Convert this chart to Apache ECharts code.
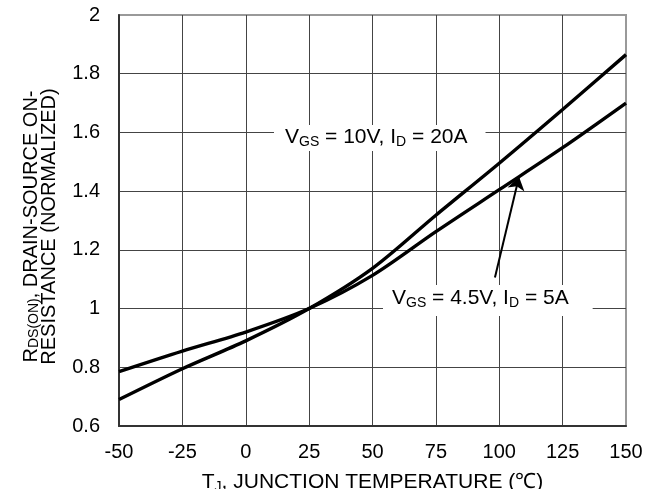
<!DOCTYPE html>
<html>
<head>
<meta charset="utf-8">
<script src="https://cdn.jsdelivr.net/npm/echarts@6/dist/echarts.min.js"></script>
<style>
  html, body { margin: 0; padding: 0; background: #fff; }
  #chart { width: 660px; height: 489px; }
</style>
</head>
<body>
<div id="chart"></div>
<script>
// Junction temperature, degrees C
const temperatures = [-50, -25, 0, 25, 50, 75, 100, 125, 150];
// Normalized on-resistance, VGS = 10V, ID = 20A
const rdsOn10V = [0.69, 0.795, 0.89, 1.0, 1.137, 1.318, 1.495, 1.678, 1.865];
// Normalized on-resistance, VGS = 4.5V, ID = 5A
const rdsOn4V5 = [0.785, 0.855, 0.92, 1.0, 1.113, 1.262, 1.405, 1.548, 1.70];
// Axis ticks
const xTicks = { min: -50, max: 150, step: 25 };
const yTicks = { min: 0.6, max: 2, step: 0.2 };
// Pointer from the 4.5V caption to its curve (temperature, resistance)
const arrowFrom = [98.3, 1.106];
const arrowTo = [107.8, 1.449];

const FONT = '"Liberation Sans", Arial, Helvetica, sans-serif';
const subRich = {
  n: { fontSize: 21, fontFamily: FONT, color: '#000', lineHeight: 22, verticalAlign: 'top' },
  s: { fontSize: 14, fontFamily: FONT, color: '#000', lineHeight: 14, verticalAlign: 'bottom' }
};

function pairs(xs, ys) { return xs.map((x, i) => [x, ys[i]]); }

const chart = echarts.init(document.getElementById('chart'), null, { renderer: 'canvas' });

const option = {
  animation: false,
  backgroundColor: '#fff',
  grid: {
    left: 119, right: 34, top: 15, bottom: 63,
    containLabel: false,
    outerBoundsMode: 'none',
    show: true, borderColor: '#999', borderWidth: 2, backgroundColor: 'transparent'
  },
  xAxis: {
    type: 'value',
    min: xTicks.min, max: xTicks.max, interval: xTicks.step,
    axisLine: { show: true, onZero: false, lineStyle: { color: '#333', width: 2 } },
    axisTick: { show: false },
    axisLabel: { color: '#000', fontSize: 20, fontFamily: FONT, margin: 16 },
    splitLine: { show: true, showMinLine: false, showMaxLine: false, lineStyle: { color: '#444', width: 1 } },
    name: '{n|T}{s|J}{n|, JUNCTION TEMPERATURE (℃)}',
    nameLocation: 'middle',
    nameGap: 46,
    nameTextStyle: { rich: subRich }
  },
  yAxis: {
    type: 'value',
    min: yTicks.min, max: yTicks.max, interval: yTicks.step,
    axisLine: { show: true, onZero: false, lineStyle: { color: '#333', width: 2 } },
    axisTick: { show: false },
    axisLabel: { color: '#000', fontSize: 20, fontFamily: FONT, margin: 19 },
    splitLine: { show: true, showMinLine: false, showMaxLine: false, lineStyle: { color: '#444', width: 1 } },
    name: '{n|R}{s|DS(ON)}{n|, DRAIN-SOURCE ON-}\n{m|RESISTANCE (NORMALIZED)}',
    nameLocation: 'middle',
    nameRotate: 90,
    nameGap: 61,
    nameTextStyle: {
      align: 'center',
      padding: [0, 12, 0, 0],
      rich: {
        n: { fontSize: 20, fontFamily: FONT, color: '#000', lineHeight: 20, verticalAlign: 'top' },
        s: { fontSize: 14, fontFamily: FONT, color: '#000', lineHeight: 14, verticalAlign: 'bottom' },
        m: { fontSize: 20, fontFamily: FONT, color: '#000', lineHeight: 17 }
      }
    }
  },
  graphic: [
    {
      type: 'text',
      left: 274, top: 125,
      z: 50,
      style: {
        text: '{n|V}{s|GS}{n| = 10V, I}{s|D}{n| = 20A}',
        rich: subRich,
        backgroundColor: '#fff',
        padding: [2, 18, 2, 11]
      }
    },
    {
      type: 'text',
      left: 383, top: 285,
      z: 50,
      style: {
        text: '{n|V}{s|GS}{n| = 4.5V, I}{s|D}{n| = 5A}',
        rich: subRich,
        backgroundColor: '#fff',
        padding: [3, 24, 6, 9]
      }
    }
  ],
  series: [
    {
      name: 'VGS = 10V, ID = 20A',
      type: 'line',
      data: pairs(temperatures, rdsOn10V),
      smooth: 0.3,
      showSymbol: false,
      lineStyle: { color: '#000', width: 3.4 },
      z: 5
    },
    {
      name: 'VGS = 4.5V, ID = 5A',
      type: 'line',
      data: pairs(temperatures, rdsOn4V5),
      smooth: 0.3,
      showSymbol: false,
      lineStyle: { color: '#000', width: 3.4 },
      z: 5,
      markLine: {
        silent: true,
        symbol: ['none', 'arrow'],
        symbolSize: 13,
        label: { show: false },
        lineStyle: { color: '#000', width: 2, type: 'solid' },
        data: [[{ coord: arrowFrom }, { coord: arrowTo }]]
      }
    }
  ]
};

chart.setOption(option);
</script>
</body>
</html>
